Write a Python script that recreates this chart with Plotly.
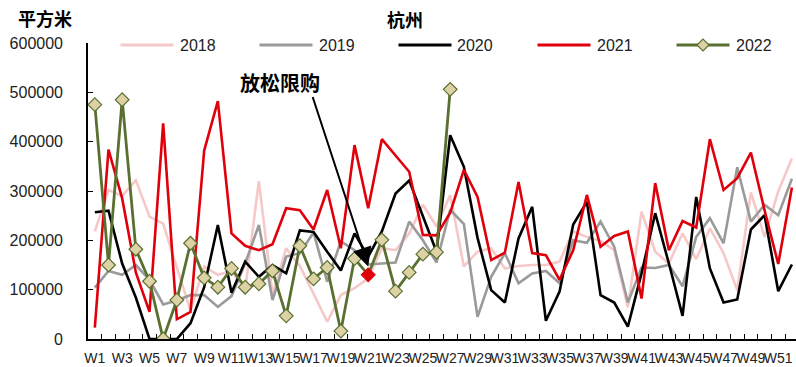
import plotly.graph_objects as go

weeks = [f"W{i}" for i in range(1, 53)]

sales_2018 = [218000, 302000, 290000, 322000, 248000, 234000, 145000, 58000, 147000, 130000,
              138000, 100000, 320000, 90000, 184000, 148000, 92000, 35000, 89000, 103000,
              123000, 184000, 180000, 214000, 272000, 228000, 292000, 147000, 177000, 184000,
              143000, 148000, 150000, 150000, 157000, 218000, 207000, 199000, 180000, 64000,
              258000, 177000, 153000, 214000, 162000, 224000, 174000, 99000, 297000, 207000,
              299000, 366000]
sales_2019 = [104000, 138000, 130000, 150000, 120000, 70000, 78000, 89000, 89000, 65000,
              87000, 153000, 231000, 79000, 167000, 174000, 216000, 116000, 198000, 180000,
              151000, 153000, 155000, 238000, 200000, 155000, 262000, 233000, 45000, 126000,
              174000, 113000, 133000, 138000, 113000, 200000, 195000, 238000, 187000, 74000,
              145000, 144000, 150000, 107000, 207000, 245000, 194000, 348000, 238000, 272000,
              251000, 325000]
sales_2020 = [257000, 260000, 153000, 84000, 0, 0, 0, 32000, 105000, 231000,
              94000, 157000, 126000, 150000, 133000, 220000, 217000, 177000, 139000, 214000,
              167000, 218000, 295000, 321000, 248000, 177000, 413000, 349000, 205000, 99000,
              74000, 204000, 268000, 37000, 96000, 232000, 278000, 89000, 74000, 25000,
              133000, 255000, 153000, 47000, 288000, 143000, 74000, 80000, 222000, 251000,
              97000, 151000]
sales_2021 = [23000, 384000, 285000, 135000, 55000, 437000, 40000, 55000, 382000, 482000,
              214000, 189000, 180000, 192000, 265000, 261000, 222000, 302000, 184000, 393000,
              265000, 405000, 372000, 339000, 211000, 210000, 256000, 343000, 288000, 160000,
              175000, 318000, 174000, 170000, 120000, 180000, 292000, 187000, 209000, 218000,
              82000, 316000, 180000, 239000, 226000, 405000, 302000, 326000, 378000, 261000,
              152000, 307000]
sales_2022 = [475000, 150000, 485000, 182000, 117000, 0, 79000, 194000, 124000, 105000,
              143000, 105000, 112000, 138000, 47000, 189000, 122000, 145000, 16000, 163000,
              130000, 201000, 97000, 135000, 172000, 176000, 506000]

years = ["2018", "2019", "2020", "2021", "2022"]
policy_week = "W21"
policy_label = "放松限购"

LATIN = "Liberation Sans, Arial, sans-serif"
CJK = "Noto Sans CJK SC, sans-serif"
OLIVE = "#5A7030"
TAN = "#DDD2A6"
RED = "#E0000B"
colors = ["#F6C8C8", "#9A9A9A", "#000000", RED, OLIVE]

# plot area in pixels, used to place the hand-drawn legend and labels
L, R, T, B = 88, 796, 43, 339


def px(x):
    return (x - L) / (R - L)


def py(y):
    return (B - y) / (B - T)


fig = go.Figure()

for name, values, color in zip(years[:4], [sales_2018, sales_2019, sales_2020, sales_2021], colors[:4]):
    fig.add_trace(go.Scatter(
        x=weeks[:len(values)], y=values, name=name, mode="lines",
        line=dict(color=color, width=2.6), showlegend=False,
    ))

# 2022 series: diamond markers, the policy week highlighted in red
weeks_2022 = weeks[:len(sales_2022)]
fill_2022 = [RED if w == policy_week else TAN for w in weeks_2022]
edge_2022 = [RED if w == policy_week else OLIVE for w in weeks_2022]
fig.add_trace(go.Scatter(
    x=weeks_2022, y=sales_2022, name="2022", mode="lines+markers",
    line=dict(color=OLIVE, width=2.8), showlegend=False,
    marker=dict(symbol="diamond", size=10.5, color=fill_2022,
                line=dict(color=edge_2022, width=1.2)),
))

# legend row drawn along the top of the plot
shapes = []
annotations = []
legend_y = 45
for i, (name, color) in enumerate(zip(years, colors)):
    x0 = 120.5 + 139 * i
    x1 = x0 + 53
    shapes.append(dict(type="line", xref="paper", yref="paper",
                       x0=px(x0), x1=px(x1), y0=py(legend_y), y1=py(legend_y),
                       line=dict(color=color, width=3)))
    if name == "2022":
        cx, cy, r = (x0 + x1) / 2, legend_y, 6
        path = (f"M {px(cx - r)},{py(cy)} L {px(cx)},{py(cy - r)} "
                f"L {px(cx + r)},{py(cy)} L {px(cx)},{py(cy + r)} Z")
        shapes.append(dict(type="path", xref="paper", yref="paper", path=path,
                           fillcolor=TAN, line=dict(color=OLIVE, width=1.2)))
    annotations.append(dict(x=px(x1 + 4), y=py(legend_y), xref="paper", yref="paper",
                            text=name, showarrow=False, xanchor="left", yanchor="middle",
                            font=dict(family=LATIN, size=16, color="#222222")))

# arrow pointing to the policy week
annotations.append(dict(
    x=policy_week, y=147000, xref="x", yref="y", text="",
    showarrow=True, ax=-56, ay=-171, arrowhead=2, arrowsize=1.9,
    arrowwidth=2, arrowcolor="#000000",
))
annotations.append(dict(
    x=px(280), y=py(83), xref="paper", yref="paper", text="<b>" + policy_label + "</b>",
    showarrow=False, xanchor="center", yanchor="middle",
    font=dict(family=CJK, size=20, color="#000000"),
))
# title and unit
annotations.append(dict(
    x=px(405), y=py(19), xref="paper", yref="paper", text="<b>杭州</b>",
    showarrow=False, xanchor="center", yanchor="middle",
    font=dict(family=CJK, size=18, color="#000000"),
))
annotations.append(dict(
    x=px(45), y=py(18), xref="paper", yref="paper", text="<b>平方米</b>",
    showarrow=False, xanchor="center", yanchor="middle",
    font=dict(family=CJK, size=18, color="#000000"),
))

tick_text = [w if i % 2 == 0 else "" for i, w in enumerate(weeks)]

fig.update_layout(
    width=796, height=367, autosize=False,
    margin=dict(l=L, r=0, t=T, b=367 - B),
    paper_bgcolor="white", plot_bgcolor="white",
    font=dict(family=LATIN, size=16, color="#222222"),
    showlegend=False,
    shapes=shapes,
    annotations=annotations,
    xaxis=dict(
        type="category", categoryorder="array", categoryarray=weeks,
        range=[-0.5, 51.3], automargin=False,
        tickmode="array", tickvals=weeks, ticktext=tick_text, tickangle=0,
        ticks="inside", tickson="boundaries", ticklen=5, tickwidth=1.2, tickcolor="#000000",
        showline=True, linecolor="#000000", linewidth=1.6,
        showgrid=False, zeroline=False,
        tickfont=dict(family="Liberation Sans Narrow, Arial Narrow, " + LATIN, size=14, color="#222222"),
        ticklabelstandoff=5,
    ),
    yaxis=dict(
        range=[0, 600000], tickmode="linear", tick0=0, dtick=100000, automargin=False,
        ticks="inside", ticklen=5, tickwidth=1.2, tickcolor="#000000",
        showline=True, linecolor="#000000", linewidth=1.6,
        showgrid=False, zeroline=False,
        tickformat="d",
        tickfont=dict(family=LATIN, size=16, color="#222222"),
        ticklabelstandoff=20,
    ),
)

fig.write_html("out.html")
